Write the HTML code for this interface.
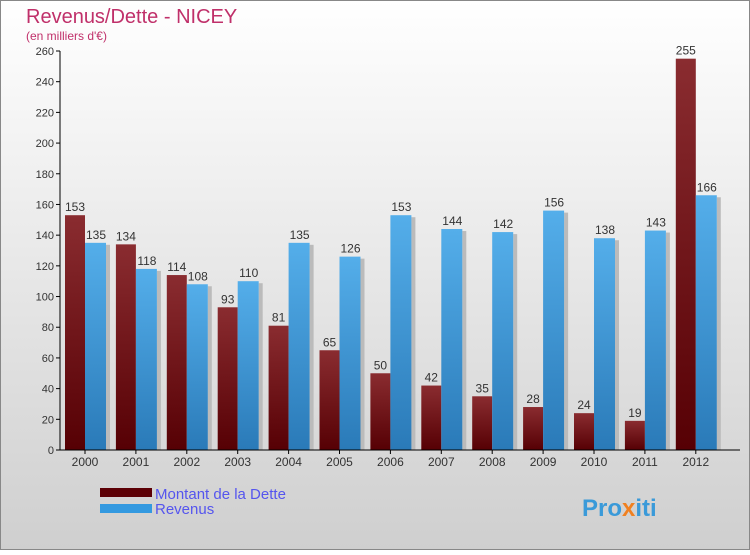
<!DOCTYPE html>
<html><head><meta charset="utf-8"><style>
body{margin:0;width:750px;height:550px;overflow:hidden;font-family:"Liberation Sans",sans-serif}
</style></head><body>
<svg id="c" width="750" height="550" xmlns="http://www.w3.org/2000/svg">
<defs>
<linearGradient id="bg" x1="0" y1="0" x2="0" y2="1"><stop offset="0" stop-color="#ffffff"/><stop offset="1" stop-color="#cfcfcf"/></linearGradient>
<linearGradient id="gd" x1="0" y1="0" x2="1" y2="0"><stop offset="0" stop-color="#8a2a2e"/><stop offset="1" stop-color="#5a0a0c"/></linearGradient>
<linearGradient id="gdv" x1="0" y1="0" x2="0" y2="1"><stop offset="0" stop-color="#8a2c30"/><stop offset="1" stop-color="#560004"/></linearGradient>
<linearGradient id="gr" x1="0" y1="0" x2="0" y2="1"><stop offset="0" stop-color="#54aeea"/><stop offset="1" stop-color="#2a7ab8"/></linearGradient>
</defs>
<rect x="0.5" y="0.5" width="749" height="549" fill="url(#bg)" stroke="#888"/>
<text x="26" y="23" font-size="20" fill="#c0306a">Revenus/Dette - NICEY</text>
<text x="26" y="40" font-size="12" fill="#c0306a">(en milliers d'€)</text>
<g id="plot"></g>
<rect x="100" y="488" width="52" height="9" fill="#5c0006"/>
<text x="155" y="499" font-size="15" fill="#5555ee">Montant de la Dette</text>
<rect x="100" y="504" width="52" height="9" fill="#3399e0"/>
<text x="155" y="514" font-size="15" fill="#5555ee">Revenus</text>
<text x="582" y="516" font-size="24" font-weight="bold" fill="#3a9ad9">Pro<tspan fill="#f08020">x</tspan>iti</text>
</svg>
<script>
const years=["2000","2001","2002","2003","2004","2005","2006","2007","2008","2009","2010","2011","2012"];
const dette=[153,134,114,93,81,65,50,42,35,28,24,19,255];
const revenus=[135,118,108,110,135,126,153,144,142,156,138,143,166];
const yTicks=[0,20,40,60,80,100,120,140,160,180,200,220,240,260];
const NS="http://www.w3.org/2000/svg";
const g=document.getElementById('plot');
const y0=450,yTop=51,yMax=260,x0=60,step=50.9,first=85;
const y=v=>y0-(v/yMax)*(y0-yTop);
const xc=i=>first+i*step;
function mk(t,a){const e=document.createElementNS(NS,t);for(const k in a)e.setAttribute(k,a[k]);g.appendChild(e);return e;}
yTicks.forEach(v=>{
 const l=mk('line',{x1:x0-4,x2:x0,y1:y(v),y2:y(v),stroke:'#000'});
 
 
 const t=mk('text',{x:x0-6,y:y(v)+4,'text-anchor':'end','font-size':11,fill:'#333'});
 t.textContent=v;
 
 
});
years.forEach((yr,i)=>{
 const c=xc(i);
 const s=mk('rect',{x:c+21,y:y(revenus[i])+2,width:4,height:y0-y(revenus[i])-2,fill:'#bbb'});
 
 
 const d=mk('rect',{x:c-20,y:y(dette[i]),width:20,height:y0-y(dette[i]),fill:'url(#gdv)'});
 
 
 const r=mk('rect',{x:c,y:y(revenus[i]),width:21,height:y0-y(revenus[i]),fill:'url(#gr)'});
 
 
 const dl=mk('text',{x:c-10,y:y(dette[i])-4,'text-anchor':'middle','font-size':12,fill:'#333'});
 dl.textContent=dette[i];
 
 
 const rl=mk('text',{x:c+11,y:y(revenus[i])-4,'text-anchor':'middle','font-size':12,fill:'#333'});
 rl.textContent=revenus[i];
 
 
 const tk=mk('line',{x1:c,x2:c,y1:y0,y2:y0+4,stroke:'#000'});
 
 
 const xl=mk('text',{x:c,y:y0+16,'text-anchor':'middle','font-size':12,fill:'#333'});
 xl.textContent=yr;
 
 
});
const ax=mk('line',{x1:x0,x2:x0,y1:yTop,y2:y0,stroke:'#000'});


const bx=mk('line',{x1:x0,x2:740,y1:y0,y2:y0,stroke:'#000'});


</script>
</body></html>
